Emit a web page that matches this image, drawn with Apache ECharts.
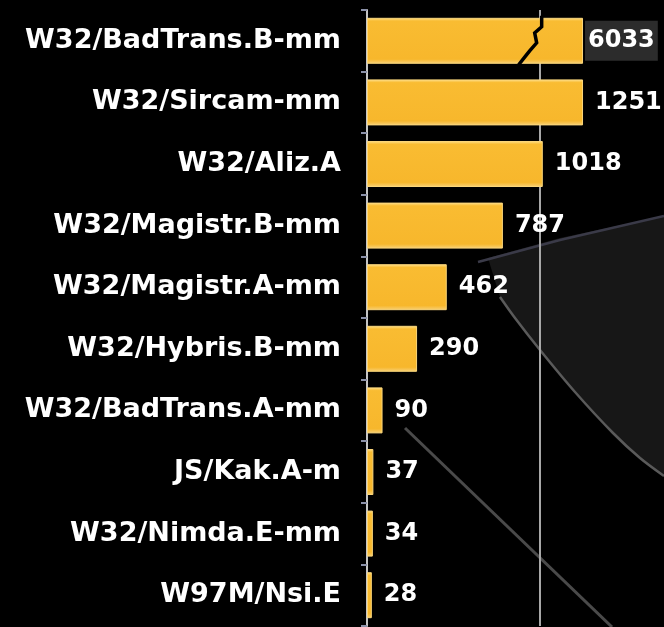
<!DOCTYPE html>
<html>
<head>
<meta charset="utf-8">
<script src="https://cdn.jsdelivr.net/npm/echarts@6.0.0/dist/echarts.min.js"></script>
<style>
    html, body { margin: 0; padding: 0; background: #000; }
    #chart { width: 664px; height: 627px; }
</style>
</head>
<body>
<div id="chart"></div>
<script type="text/javascript">
    // virus names and counts, top to bottom
    var names = ['W32/BadTrans.B-mm', 'W32/Sircam-mm', 'W32/Aliz.A', 'W32/Magistr.B-mm', 'W32/Magistr.A-mm',
        'W32/Hybris.B-mm', 'W32/BadTrans.A-mm', 'JS/Kak.A-m', 'W32/Nimda.E-mm', 'W97M/Nsi.E'];
    var counts = [6033, 1251, 1018, 787, 462, 290, 90, 37, 34, 28];
    // bars longer than cap are drawn broken at breakAt
    var cap = 1251;
    var breakAt = 1000;
    var refLine = 1000;

    var myChart = echarts.init(document.getElementById('chart'));

    var barData = counts.map(function (v, i) {
        var item = { value: Math.min(v, cap) };
        if (v > cap) {
            item.label = { backgroundColor: '#2c2c2c', padding: [9, 3, 7, 3], distance: 2 };
        }
        return item;
    });
    var breakData = [];
    counts.forEach(function (v, i) {
        if (v > cap) breakData.push([breakAt, i]);
    });

    option = {
        animation: false,
        backgroundColor: '#000',
        graphic: [
            {
                type: 'polygon', z: -1, silent: true,
                shape: { points: [[488, 258], [560, 238], [664, 216], [664, 476], [640, 458], [613, 433], [575, 392], [540, 350], [515, 318], [500, 297]] },
                style: { fill: '#171717', stroke: null }
            },
            {
                type: 'polyline', z: -1, silent: true,
                shape: { points: [[500, 297], [515, 318], [540, 350], [575, 392], [613, 433], [640, 458], [664, 476]], smooth: 0.3 },
                style: { stroke: '#5a5a5a', lineWidth: 2.5, fill: null }
            },
            {
                type: 'polyline', z: -1, silent: true,
                shape: { points: [[478, 262], [560, 240], [664, 216]] },
                style: { stroke: '#3a3a48', lineWidth: 2.5, fill: null }
            },
            {
                type: 'line', z: -1, silent: true,
                shape: { x1: 405, y1: 428, x2: 612, y2: 627 },
                style: { stroke: '#4a4a4a', lineWidth: 3 }
            }
        ],
        grid: { left: 367, right: 0, top: 10, bottom: 1 },
        xAxis: {
            type: 'value',
            min: 0,
            max: 1720,
            interval: refLine,
            axisLine: { show: false },
            axisTick: { show: false },
            axisLabel: { show: false },
            splitLine: {
                show: true, showMinLine: false, showMaxLine: false,
                lineStyle: { color: '#a8a8a8', width: 2 }
            }
        },
        yAxis: {
            type: 'category',
            inverse: true,
            data: names,
            axisLine: { show: true, lineStyle: { color: '#c4c4c4', width: 2 } },
            axisTick: { show: true, length: 6, lineStyle: { color: '#8a90a8', width: 2 } },
            axisLabel: {
                color: '#fff',
                fontFamily: 'DejaVu Sans',
                fontWeight: 'bold',
                fontSize: 27,
                margin: 26
            }
        },
        series: [
            {
                name: 'Count',
                type: 'bar',
                data: barData,
                barWidth: 46,
                itemStyle: {
                    color: new echarts.graphic.LinearGradient(0, 0, 0, 1, [
                        { offset: 0, color: '#ffe28e' },
                        { offset: 0.07, color: '#f9bc32' },
                        { offset: 0.9, color: '#f7b72c' },
                        { offset: 1, color: '#f8d27a' }
                    ]),
                    borderColor: '#fbd67a',
                    borderWidth: 1
                },
                label: {
                    show: true,
                    position: 'right',
                    distance: 12,
                    color: '#fff',
                    fontFamily: 'DejaVu Sans',
                    fontWeight: 'bold',
                    fontSize: 24,
                    formatter: function (p) { return counts[p.dataIndex]; }
                }
            },
            {
                name: 'break',
                type: 'custom',
                z: 5,
                silent: true,
                data: breakData,
                renderItem: function (params, api) {
                    var c = api.coord([api.value(0), api.value(1)]);
                    var x = c[0], y = c[1];
                    var pts = [[x + 2, y - 25], [x + 2, y - 14], [x - 5, y - 8], [x - 3, y + 2],
                        [x - 10, y + 10], [x - 14, y + 15], [x - 21, y + 24]];
                    return {
                        type: 'polyline',
                        shape: { points: pts },
                        style: { stroke: '#000', lineWidth: 3.5, fill: null }
                    };
                }
            }
        ]
    };
    myChart.setOption(option);
</script>
</body>
</html>
